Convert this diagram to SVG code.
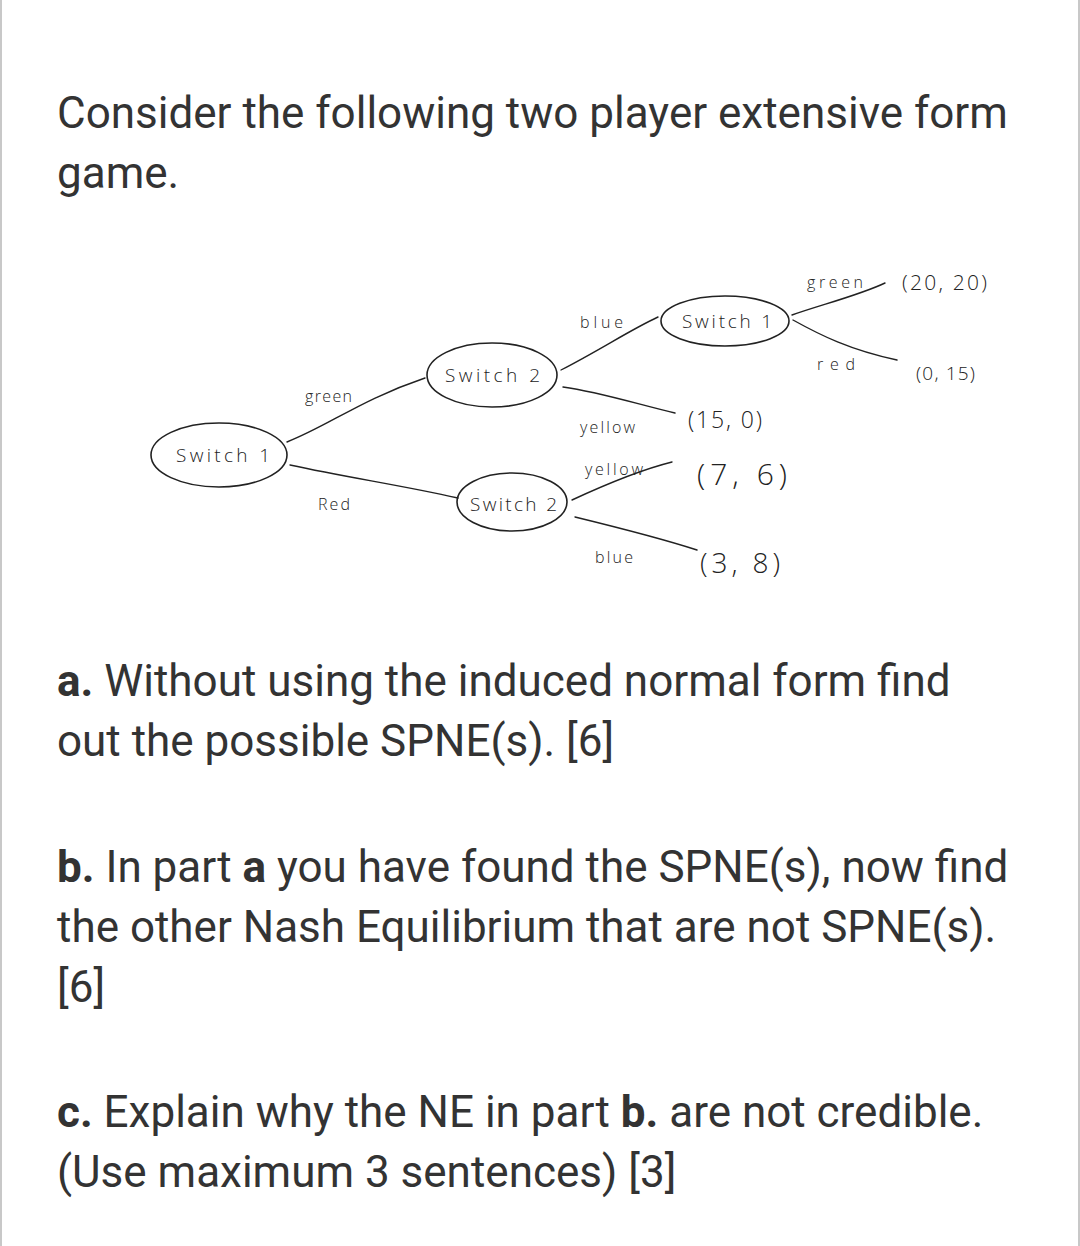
<svg xmlns="http://www.w3.org/2000/svg" width="1080" height="1246" viewBox="0 0 1080 1246">
<style>
.q{font-family:Roboto,"Liberation Sans",sans-serif;font-size:44px;fill:#333}
.b{font-weight:bold}
.h{font-family:"Open Sans","DejaVu Sans",sans-serif;font-weight:300;fill:#222}
.n{font-size:19px}
.e{font-size:16px}
.node{fill:none;stroke:#222;stroke-width:1.6}
.edge{fill:none;stroke:#222;stroke-width:1.4;stroke-linecap:round}
</style>
<rect width="1080" height="1246" fill="#fff"/>
<rect x="0" y="0" width="2" height="1246" fill="#c8c8c8"/>
<rect x="1078" y="0" width="2" height="1246" fill="#c8c8c8"/>

<g id="question">
<text class="q" x="57" y="128">Consider the following two player extensive form</text>
<text class="q" x="57" y="188">game.</text>
<text class="q" x="57" y="696"><tspan class="b">a.</tspan> Without using the induced normal form find</text>
<text class="q" x="57" y="756">out the possible SPNE(s). [6]</text>
<text class="q" x="57" y="882"><tspan class="b">b.</tspan> In part <tspan class="b">a</tspan> you have found the SPNE(s), now find</text>
<text class="q" x="57" y="942">the other Nash Equilibrium that are not SPNE(s).</text>
<text class="q" x="57" y="1002">[6]</text>
<text class="q" x="57" y="1127"><tspan class="b">c.</tspan> Explain why the NE in part <tspan class="b">b.</tspan> are not credible.</text>
<text class="q" x="57" y="1187">(Use maximum 3 sentences) [3]</text>
</g>

<g id="connectors">
<path class="edge" d="M287 442 C330 425 360 400 425 378"/>
<path class="edge" d="M290 465 C350 478 400 485 458 498"/>
<path class="edge" d="M561 370 C600 350 630 330 658 317"/>
<path class="edge" d="M563 387 C600 392 640 405 675 413"/>
<path class="edge" d="M572 500 C600 487 640 470 672 462"/>
<path class="edge" d="M575 517 C620 528 660 538 697 550"/>
<path class="edge" d="M792 315 C820 305 860 295 885 283"/>
<path class="edge" d="M793 320 C820 335 850 350 897 360"/>
<text class="h e" x="305" y="402" textLength="47">green</text>
<text class="h e" x="318" y="510" textLength="32">Red</text>
<text class="h e" x="580" y="328" textLength="43">blue</text>
<text class="h e" x="580" y="433" textLength="55">yellow</text>
<text class="h e" x="585" y="475" textLength="58">yellow</text>
<text class="h e" x="595" y="563" textLength="38">blue</text>
<text class="h e" x="807" y="288" textLength="56">green</text>
<text class="h e" x="817" y="370" textLength="38">red</text>
</g>

<g id="n1">
<ellipse class="node" cx="219" cy="455" rx="68" ry="32"/>
<text class="h n" x="176" y="462" textLength="94">Switch 1</text>
</g>
<g id="n2">
<ellipse class="node" cx="492" cy="375" rx="65" ry="32"/>
<text class="h n" x="445" y="382" textLength="95">Switch 2</text>
</g>
<g id="n3">
<ellipse class="node" cx="512" cy="502" rx="55" ry="29"/>
<text class="h n" x="470" y="511" textLength="87">Switch 2</text>
</g>
<g id="n4">
<ellipse class="node" cx="725" cy="321" rx="64" ry="25"/>
<text class="h n" x="682" y="328" textLength="90">Switch 1</text>
</g>
<g id="p1"><text class="h" font-size="21" x="902" y="290" textLength="85">(20, 20)</text></g>
<g id="p2"><text class="h" font-size="19" x="916" y="380" textLength="59">(0, 15)</text></g>
<g id="p3"><text class="h" font-size="23" x="688" y="428" textLength="74">(15, 0)</text></g>
<g id="p4"><text class="h" font-size="30" x="697" y="485" textLength="90">(7, 6)</text></g>
<g id="p5"><text class="h" font-size="28" x="700" y="573" textLength="80">(3, 8)</text></g>
</svg>
